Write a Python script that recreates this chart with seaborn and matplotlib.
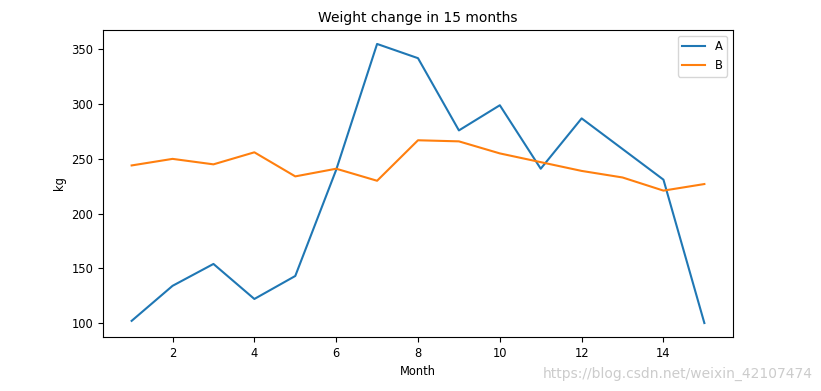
import matplotlib
matplotlib.use("Agg")
import matplotlib.pyplot as plt
import seaborn as sns
import pandas as pd

months = list(range(1, 16))
weight_a = [102, 134, 154, 122, 143, 240, 355, 342, 276, 299, 241, 287, 259, 231, 100]
weight_b = [244, 250, 245, 256, 234, 241, 230, 267, 266, 255, 247, 239, 233, 221, 227]

df = pd.DataFrame({
    'Month': months * 2,
    'kg': weight_a + weight_b,
    'Series': ['A'] * 15 + ['B'] * 15,
})

plt.rcParams['font.size'] = 8.3

fig = plt.figure(figsize=(8.21, 3.91), dpi=100)
ax = fig.add_axes([103 / 821, 1 - 337 / 391, 630 / 821, 307 / 391])

sns.lineplot(data=df, x='Month', y='kg', hue='Series', palette=['#1f77b4', '#ff7f0e'], ax=ax)
ax.set_title('Weight change in 15 months', fontsize=10)
ax.set_xticks([2, 4, 6, 8, 10, 12, 14])
ax.set_yticks([100, 150, 200, 250, 300, 350])
ax.legend(loc='upper right')

# watermark
fig.text(0.99, 0.025, 'https://blog.csdn.net/weixin_42107474', ha='right', va='bottom',
         color='#cccccc', fontsize=10)

fig.savefig('out.png', dpi=100)
